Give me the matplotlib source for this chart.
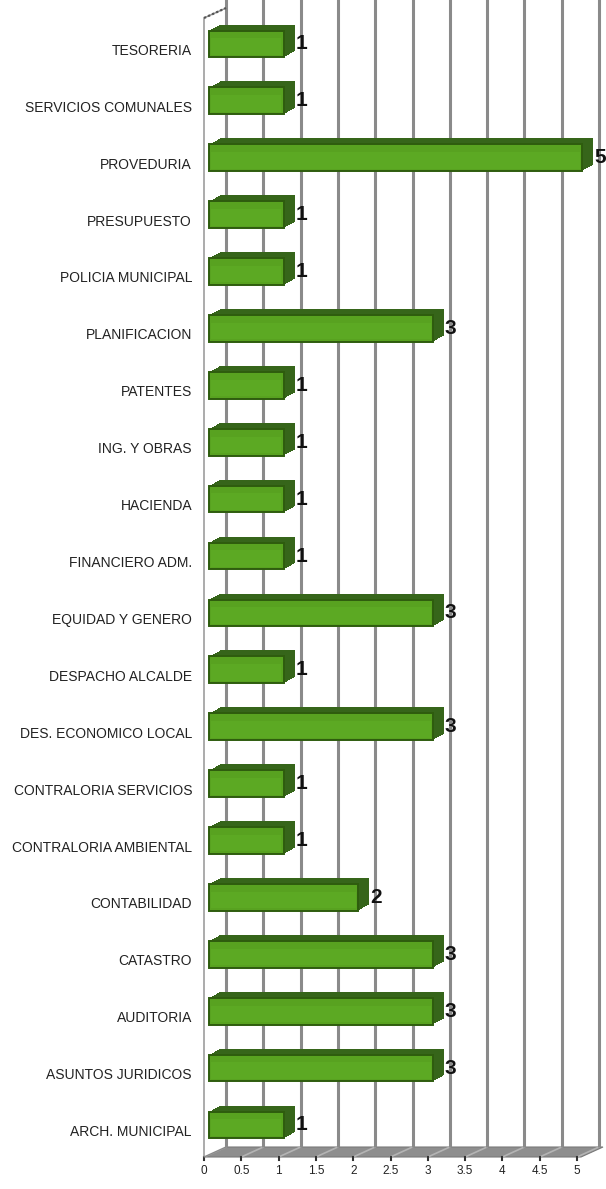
import numpy as np
import matplotlib.pyplot as plt
import matplotlib.transforms as mtransforms
from matplotlib.patches import Polygon
from matplotlib.lines import Line2D

plt.rcParams['font.family'] = ['Liberation Sans', 'DejaVu Sans']

# data (bottom to top)
categories = ["ARCH. MUNICIPAL", "ASUNTOS JURIDICOS", "AUDITORIA", "CATASTRO",
              "CONTABILIDAD", "CONTRALORIA AMBIENTAL", "CONTRALORIA SERVICIOS",
              "DES. ECONOMICO LOCAL", "DESPACHO ALCALDE", "EQUIDAD Y GENERO",
              "FINANCIERO ADM.", "HACIENDA", "ING. Y OBRAS", "PATENTES",
              "PLANIFICACION", "POLICIA MUNICIPAL", "PRESUPUESTO", "PROVEDURIA",
              "SERVICIOS COMUNALES", "TESORERIA"]
values = [1, 3, 3, 3, 2, 1, 1, 3, 1, 3, 1, 1, 1, 1, 3, 1, 1, 5, 1, 1]
xticks = np.arange(0, 5.01, 0.5)
xticklabels = ["0", "0.5", "1", "1.5", "2", "2.5", "3", "3.5", "4", "4.5", "5"]

W, H = 606, 1189
fig = plt.figure(figsize=(W / 100, H / 100), dpi=100)
# front plane of the plot box in pixels
x0px, x5px = 204, 577
ytop, ybot = 18, 1157
ax = fig.add_axes([x0px / W, (H - ybot) / H, (x5px - x0px) / W, (ybot - ytop) / H])
n = len(categories)
step = 56.9
c0 = 1127  # pixel y of first category
ax.set_xlim(0, 5)
ax.set_ylim(-(ybot - c0) / step, (c0 - ytop) / step)
ax.axis('off')
ident = mtransforms.IdentityTransform()


def shift(dx, dy):
    # data transform moved by dx, dy pixels (depth effect)
    return ax.transData + mtransforms.ScaledTranslation(dx / 100, dy / 100, fig.dpi_scale_trans)


def pt(v, c, dx=0, dy=0):
    x, y = ax.transData.transform((v, c))
    return (x + dx, y + dy)


def seg(a, b, **kw):
    ax.add_line(Line2D([a[0], b[0]], [a[1], b[1]], transform=ident, clip_on=False, **kw))


WX, WY = 22, 10  # wall depth
yb, yt = ax.get_ylim()

# floor
ax.add_patch(Polygon([pt(0, yb), pt(5, yb, 4, 0), pt(5, yb, WX + 4, WY), pt(0, yb, WX, WY)],
                     closed=True, transform=ident, facecolor='#8e8e8e', edgecolor='#7a7a7a',
                     lw=0.8, zorder=0.5, clip_on=False))
for t in xticks:
    seg(pt(t, yb), pt(t, yb, WX, WY), color='#b4b4b4', lw=1.2, zorder=0.6)
    a = pt(t, yb)
    seg(a, (a[0], a[1] - 3), color='#333333', lw=1.5, zorder=0.6)

# back wall grid lines
ax.vlines(xticks, yb, yt + 2, colors='#8a8a8a', lw=2.2, transform=shift(WX, WY),
          clip_on=False, zorder=0.7)

# left wall
ax.add_patch(Polygon([pt(0, yb), pt(0, yt), pt(0, yt, WX, WY), pt(0, yb, WX, WY)],
                     closed=True, transform=ident, facecolor='white', edgecolor='#8a8a8a',
                     lw=1.0, zorder=0.65, clip_on=False))
seg(pt(0, yt), pt(0, yt, WX, WY), color='#555555', lw=1.6, ls=(0, (1, 1)), zorder=0.8)

ypos = np.arange(n)
bh = 0.47
bx, by = 5, 2   # bar front offset
ex, ey = 11, 6  # bar extrusion

# bar extrusion (top + side)
for k in np.linspace(1, 0, 12):
    ax.barh(ypos, values, height=bh, color='#36651a', edgecolor='none',
            transform=shift(bx + k * ex, by + k * ey), zorder=2, clip_on=False)
# front faces
ax.barh(ypos, values, height=bh, color='#58a220', edgecolor='#2e5c0e', lw=1.4,
        transform=shift(bx, by), zorder=3, clip_on=False)
ax.barh(ypos - bh * 0.1, values - np.full(n, 0.06), height=bh * 0.62, left=0.03,
        color='#5ca923', edgecolor='none', transform=shift(bx, by), zorder=3.1,
        clip_on=False)

# value labels
for i, v in enumerate(values):
    ax.text(v, i, str(v), transform=shift(bx + ex + 1, by), ha='left', va='center',
            fontsize=15, fontweight='bold', color='#111111', zorder=4, clip_on=False)

# category labels
for i, name in enumerate(categories):
    ax.text(0, i, name, transform=shift(-12, -5), ha='right', va='center',
            fontsize=10, color='#222222')

# x tick labels
for t, lab in zip(xticks, xticklabels):
    ax.text(t, yb, lab, transform=shift(0, -14), ha='center', va='center',
            fontsize=8.5, color='#222222')

fig.savefig('out.png', dpi=100)
